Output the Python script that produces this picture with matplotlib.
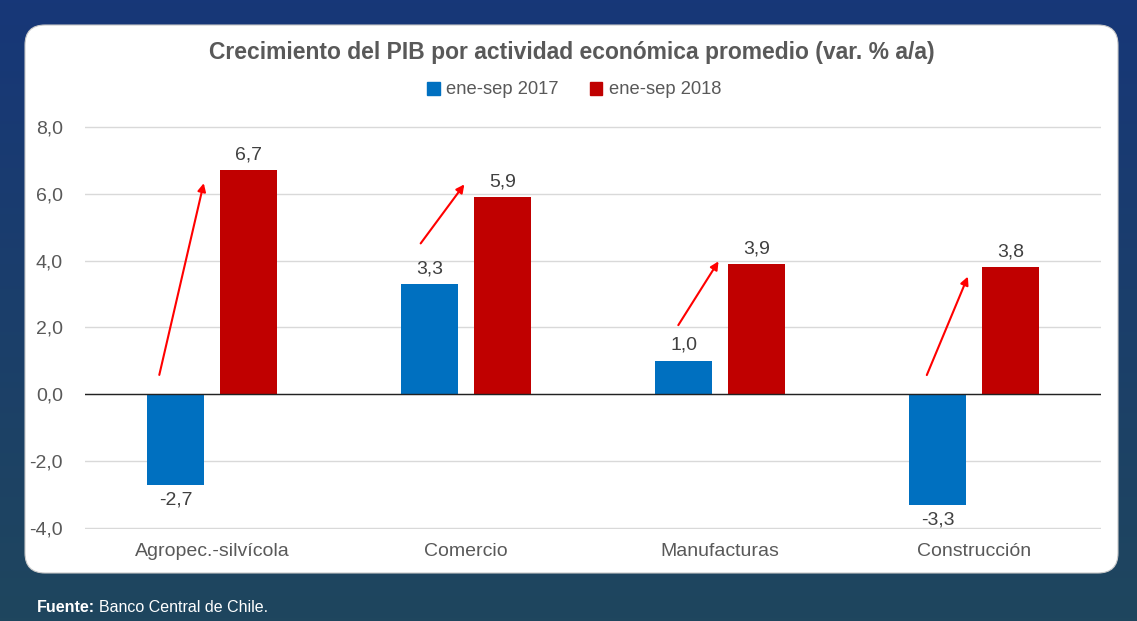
import numpy as np
import matplotlib.pyplot as plt
from matplotlib.patches import FancyBboxPatch, Patch
from matplotlib.ticker import FuncFormatter

plt.rcParams['font.family'] = ['Liberation Sans', 'DejaVu Sans']

categorias = ['Agropec.-silvícola', 'Comercio', 'Manufacturas', 'Construcción']
v2017 = [-2.7, 3.3, 1.0, -3.3]
v2018 = [6.7, 5.9, 3.9, 3.8]
series = ['ene-sep 2017', 'ene-sep 2018']
# flechas rojas (inicio y fin, en unidades de datos)
flecha_x0 = [-0.21, -0.185, -0.17, -0.19]
flecha_y0 = [0.5, 4.45, 2.0, 0.5]
flecha_x1 = [-0.03, 0.0, 0.0, -0.02]
flecha_y1 = [6.4, 6.35, 4.05, 3.6]

azul = '#0070C0'
rojo = '#C00000'
gris = '#595959'

W, H = 1137, 621
fig = plt.figure(figsize=(W / 100, H / 100), dpi=100)

# fondo degradado + panel blanco redondeado
bg = fig.add_axes([0, 0, 1, 1])
bg.set_xlim(0, W)
bg.set_ylim(H, 0)
bg.axis('off')
top = np.array([0x17, 0x37, 0x78]) / 255
bot = np.array([0x1f, 0x46, 0x5e]) / 255
t = np.linspace(0, 1, 200)[:, None]
grad = (top * (1 - t) + bot * t)[:, None, :]
bg.imshow(grad, extent=[0, W, H, 0], aspect='auto', zorder=0)
panel = FancyBboxPatch((25 + 20, 25 + 20), 1093 - 40, 548 - 40,
                       boxstyle='round,pad=20,rounding_size=20',
                       fc='white', ec='#c8c8c8', lw=0.8, zorder=1)
bg.add_patch(panel)
t1 = bg.text(37, 608, 'Fuente:', color='white', fontsize=11.5, fontweight='bold',
             va='center', ha='left')

ax = fig.add_axes([85 / W, 1 - 529 / H, (1101 - 85) / W, (529 - 126) / H])
ax.set_facecolor('none')
x = np.arange(len(categorias))
w = 0.225
b1 = ax.bar(x - 0.143, v2017, w, color=azul, zorder=3)
b2 = ax.bar(x + 0.143, v2018, w, color=rojo, zorder=3)

fmt = lambda v: f'{v:.1f}'.replace('.', ',')
ax.bar_label(b1, labels=[fmt(v) for v in v2017], padding=5, fontsize=14, color='#404040')
ax.bar_label(b2, labels=[fmt(v) for v in v2018], padding=5, fontsize=14, color='#404040')

for i in range(len(categorias)):
    ax.annotate('', xy=(x[i] + flecha_x1[i], flecha_y1[i]),
                xytext=(x[i] + flecha_x0[i], flecha_y0[i]),
                arrowprops=dict(arrowstyle='-|>', color='red', lw=1.5,
                                mutation_scale=12), zorder=4)

ax.set_xlim(-0.5, 3.5)
ax.set_ylim(-4.03, 8.03)
ax.set_yticks(np.arange(-4, 9, 2))
ax.yaxis.set_major_formatter(FuncFormatter(lambda v, p: fmt(v)))
ax.set_xticks(x)
ax.set_xticklabels(categorias)
ax.tick_params(length=0, labelsize=14, labelcolor=gris)
ax.tick_params(axis='y', pad=16)
ax.tick_params(axis='x', pad=10)
ax.grid(axis='y', color='#d9d9d9', lw=1, zorder=0)
ax.axhline(0, color='#222222', lw=1, zorder=4)
for s in ax.spines.values():
    s.set_visible(False)

fig.text(572 / W, 1 - 52 / H, 'Crecimiento del PIB por actividad económica promedio (var. % a/a)',
         ha='center', va='center', fontsize=16.5, fontweight='bold', color=gris)
handles = [Patch(color=azul), Patch(color=rojo)]
fig.legend(handles, series, loc='center', bbox_to_anchor=(574 / W, 1 - 90 / H),
           ncol=2, frameon=False, fontsize=13.2, labelcolor=gris,
           handlelength=0.7, handleheight=0.7, handletextpad=0.35, columnspacing=1.7)

# texto de la fuente a continuación de "Fuente:"
fig.canvas.draw()
ext = t1.get_window_extent()
bg.text(ext.x1 + 4, 608, 'Banco Central de Chile.', color='white', fontsize=11.5,
        va='center', ha='left')

fig.savefig('out.png', dpi=100)
